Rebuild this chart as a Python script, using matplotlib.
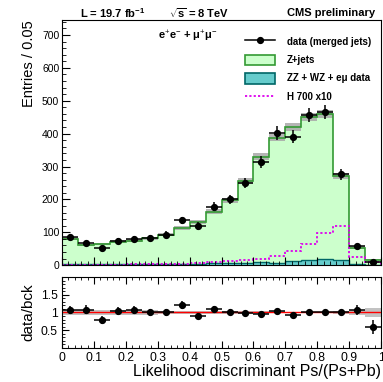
import matplotlib
matplotlib.use('Agg')
import matplotlib.pyplot as plt
import numpy as np
from matplotlib.lines import Line2D
from matplotlib.patches import Patch
from matplotlib.ticker import MultipleLocator

plt.rcParams['font.family'] = ['Liberation Sans', 'DejaVu Sans']
plt.rcParams['mathtext.fontset'] = 'custom'
plt.rcParams['mathtext.rm'] = 'Liberation Sans'
plt.rcParams['mathtext.bf'] = 'Liberation Sans:bold'
plt.rcParams['mathtext.it'] = 'Liberation Sans:italic'

# Histogram data, 20 bins of 0.05
edges = np.linspace(0, 1, 21)
data = np.array([85, 66, 51, 74, 79, 82, 93, 136, 119, 178,
                 200, 249, 313, 402, 390, 456, 466, 276, 57, 10])
diboson = np.array([2, 2, 2, 2, 2, 3, 3, 3, 4, 5,
                    6, 7, 10, 7, 12, 15, 19, 16, 3, 1])
zjets = np.array([78, 59, 62, 69, 72, 79, 90, 109, 128, 158,
                  191, 248, 320, 381, 408, 436, 442, 254, 50, 16])
higgs = np.array([0, 0, 0, 0, 2, 3, 4, 4, 5, 9,
                  12, 15, 20, 29, 43, 63, 99, 118, 24, 10])
bkg_err = np.array([5, 4, 4, 5, 5, 5, 5, 6, 6, 7,
                    8, 9, 10, 11, 11, 12, 12, 9, 4, 2])

centers = 0.5 * (edges[:-1] + edges[1:])
half = 0.025
total = zjets + diboson
data_err = np.sqrt(data)
ratio = data / total
ratio_err = data_err / total
band = bkg_err / total

fig = plt.figure(figsize=(3.83, 3.82), dpi=100)
ax = fig.add_axes([0.162, 0.306, 0.833, 0.641])
rx = fig.add_axes([0.162, 0.089, 0.833, 0.186])

# main panel
ax.stairs(total, edges, fill=True, color='#ccffcc')
ax.stairs(total + bkg_err, edges, baseline=total - bkg_err, fill=True,
          color='#a8a8a8', alpha=0.85)
ax.stairs(total, edges, color='#339933', lw=1.2)
ax.stairs(diboson, edges, fill=True, color='#66cccc')
ax.stairs(diboson, edges, color='#006666', lw=1.0)
ax.stairs(higgs, edges, color='#dd00ee', lw=1.3, linestyle=(0, (1.2, 1.2)))
ax.errorbar(centers, data, yerr=data_err, xerr=half, fmt='o', color='black',
            ms=4.2, elinewidth=1.1, capsize=0)

ax.set_xlim(0, 1)
ax.set_ylim(0, 745)
ax.set_xticks(np.arange(0, 1.01, 0.1))
ax.set_xticklabels([])
ax.yaxis.set_major_locator(MultipleLocator(100))
ax.yaxis.set_minor_locator(MultipleLocator(20))
ax.xaxis.set_minor_locator(MultipleLocator(0.02))
ax.tick_params(which='both', direction='in', labelsize=7.5, pad=2)
ax.tick_params(which='major', length=6)
ax.tick_params(which='minor', length=3)
ax.set_ylabel('Entries / 0.05', fontsize=10.5, loc='top', labelpad=4)

ax.text(0.395, 0.935, 'e$^{+}$e$^{-}$ + μ$^{+}$μ$^{-}$', transform=ax.transAxes,
        ha='center', va='center', fontsize=8, fontweight='bold')

handles = [
    Line2D([], [], color='black', marker='o', ms=4.2, lw=1.1),
    Patch(facecolor='#ccffcc', edgecolor='#339933', lw=1.2),
    Patch(facecolor='#66cccc', edgecolor='#006666', lw=1.2),
    Line2D([], [], color='#dd00ee', lw=1.3, linestyle=(0, (1.2, 1.2))),
]
labels = ['data (merged jets)', 'Z+jets', 'ZZ + WZ + eμ data', 'H 700 x10']
ax.legend(handles, labels, loc='upper left', bbox_to_anchor=(0.574, 0.935),
          frameon=False, borderpad=0, borderaxespad=0, handlelength=3.1,
          handleheight=1.3, handletextpad=1.2, labelspacing=0.8,
          prop={'size': 7, 'weight': 'bold'})

# ratio panel
rx.stairs(1 + band, edges, baseline=1 - band, fill=True, color='#b8b8b8', alpha=0.85)
rx.axhline(1, color='red', lw=1)
rx.errorbar(centers, ratio, yerr=ratio_err, xerr=half, fmt='o', color='black',
            ms=4.2, elinewidth=1.1, capsize=0)
rx.set_xlim(0, 1)
rx.set_ylim(0, 2)
rx.set_xticks(np.arange(0, 1.01, 0.1))
rx.set_xticklabels(['0', '0.1', '0.2', '0.3', '0.4', '0.5', '0.6', '0.7', '0.8', '0.9', '1'])
rx.set_yticks([0.5, 1, 1.5])
rx.set_yticklabels(['0.5', '1', '1.5'])
rx.xaxis.set_minor_locator(MultipleLocator(0.02))
rx.yaxis.set_minor_locator(MultipleLocator(0.1))
rx.tick_params(which='both', direction='in', top=True, labelsize=8.8, pad=3)
rx.tick_params(which='major', length=5)
rx.tick_params(which='minor', length=2.5)
rx.set_ylabel('data/bck', fontsize=11, labelpad=4)
rx.set_xlabel('Likelihood discriminant Ps/(Ps+Pb)', fontsize=11.5, loc='right', labelpad=0)

# header
fig.text(0.21, 0.966, r'L = 19.7 fb$^{\mathbf{-1}}$', fontsize=8, fontweight='bold', ha='left', va='center')
fig.text(0.44, 0.966, r'$\sqrt{\mathbf{s}}$ = 8 TeV', fontsize=8, fontweight='bold', ha='left', va='center')
fig.text(0.98, 0.966, 'CMS preliminary', fontsize=8, fontweight='bold', ha='right', va='center')

fig.savefig('out.png', dpi=100)
